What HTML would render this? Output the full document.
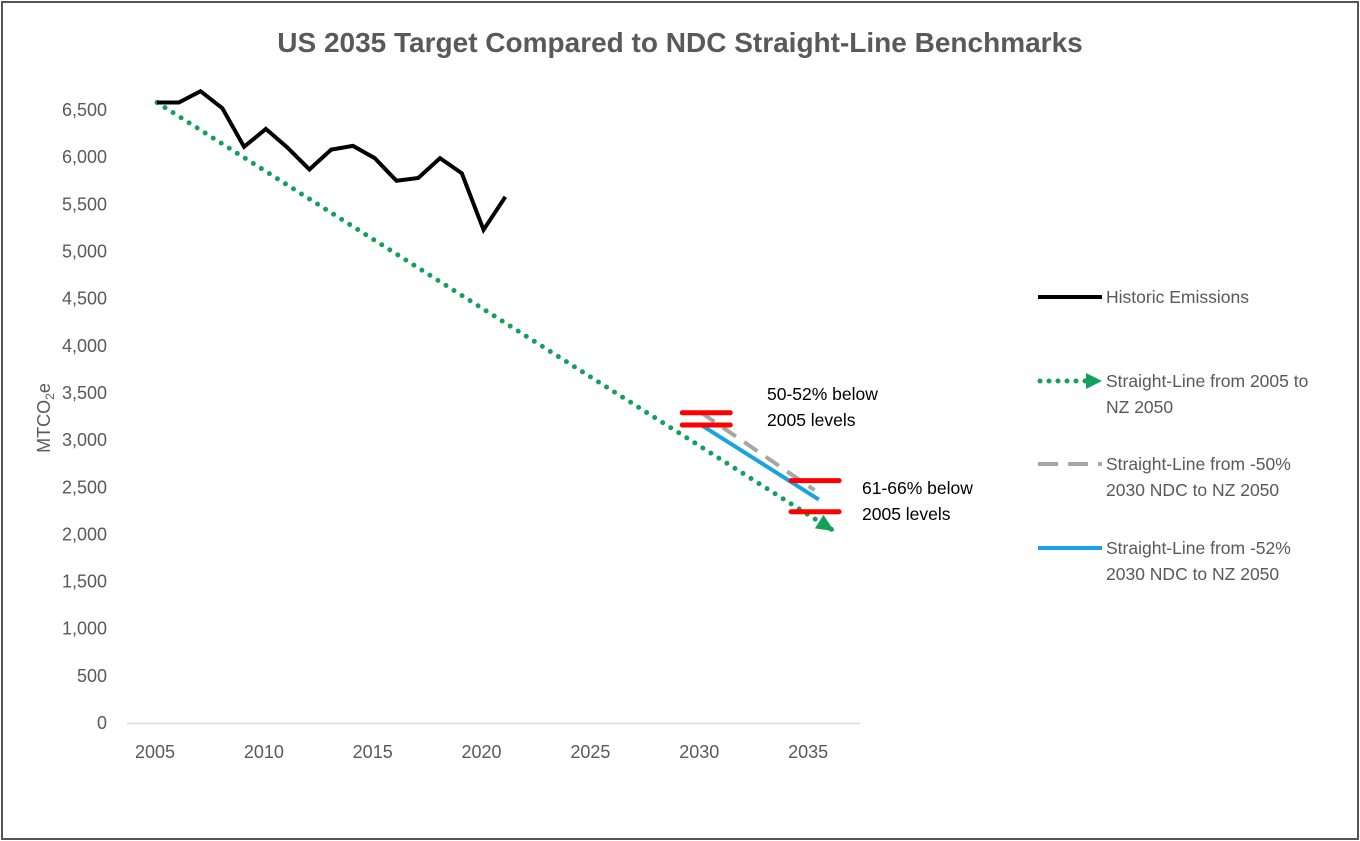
<!DOCTYPE html>
<html><head><meta charset="utf-8"><style>
body{margin:0;background:#fff;}
svg{display:block;font-family:"Liberation Sans",sans-serif;}
</style></head><body>
<svg id="c" width="1360" height="841">
<rect x="2" y="2" width="1356" height="837" fill="#fff" stroke="#555" stroke-width="2"/>
<text x="680" y="52" text-anchor="middle" font-size="28" font-weight="bold" fill="#595959">US 2035 Target Compared to NDC Straight-Line Benchmarks</text>
<text transform="translate(50,418) rotate(-90)" text-anchor="middle" font-size="18" fill="#595959">MTCO<tspan font-size="12" dy="4">2</tspan><tspan dy="-4">e</tspan></text>
<g id="ax"></g><g id="marks"></g>
<g font-size="17.5" fill="#595959">
<line x1="1038" y1="297" x2="1102" y2="297" stroke="#000" stroke-width="4"/>
<text x="1106" y="303">Historic Emissions</text>
<line x1="1040" y1="381" x2="1086" y2="381" stroke="#12a05a" stroke-width="5" stroke-dasharray="0 9" stroke-linecap="round"/>
<polygon points="1086,373 1102,381 1086,389" fill="#12a05a"/>
<text x="1106" y="387">Straight-Line from 2005 to</text>
<text x="1106" y="413">NZ 2050</text>
<line x1="1038" y1="464" x2="1102" y2="464" stroke="#a6a6a6" stroke-width="4" stroke-dasharray="20 10"/>
<text x="1106" y="470">Straight-Line from -50%</text>
<text x="1106" y="496">2030 NDC to NZ 2050</text>
<line x1="1038" y1="548" x2="1102" y2="548" stroke="#1aa3e0" stroke-width="4"/>
<text x="1106" y="554">Straight-Line from -52%</text>
<text x="1106" y="580">2030 NDC to NZ 2050</text>
</g>
<text x="767" y="400" font-size="17.5" fill="#000">50-52% below</text>
<text x="767" y="426" font-size="17.5" fill="#000">2005 levels</text>
<text x="862" y="494" font-size="17.5" fill="#000">61-66% below</text>
<text x="862" y="520" font-size="17.5" fill="#000">2005 levels</text>
</svg>
<script>
const years=[2005,2006,2007,2008,2009,2010,2011,2012,2013,2014,2015,2016,2017,2018,2019,2020,2021];
const historic=[6580,6580,6700,6520,6110,6300,6100,5870,6080,6120,5990,5750,5780,5990,5830,5230,5580];
const greenYears=[2005,2036];
const greenValues=[6580,2050];
const greyYears=[2030,2035.2];
const greyValues=[3290,2470];
const blueYears=[2030,2035.4];
const blueValues=[3160,2370];
const redYears=[2030,2030,2035,2035];
const redValues=[3290,3160,2570,2240];
const yTicks=[0,500,1000,1500,2000,2500,3000,3500,4000,4500,5000,5500,6000,6500];
const xTicks=[2005,2010,2015,2020,2025,2030,2035];
const X=y=>157+(y-2005)*21.77, Y=v=>723-v/500*47.15;
const NS='http://www.w3.org/2000/svg';
function mk(p,t,a){const e=document.createElementNS(NS,t);for(const k in a)e.setAttribute(k,a[k]);p.appendChild(e);return e;}
const ax=document.getElementById('ax'),m=document.getElementById('marks');
const base=mk(ax,'line',{x1:127,x2:860,y1:723.5,y2:723.5,stroke:'#d9d9d9','stroke-width':1.5});


yTicks.forEach(v=>{const t=mk(ax,'text',{x:107,y:Y(v)+6,'text-anchor':'end','font-size':18,fill:'#595959'});t.textContent=v.toLocaleString('en-US');

});
xTicks.forEach(v=>{const t=mk(ax,'text',{x:X(v)-2,y:758,'text-anchor':'middle','font-size':18,fill:'#595959'});t.textContent=v;

});
const pts=(xs,vs)=>xs.map((y,i)=>X(y)+','+Y(vs[i])).join(' ');
const g=mk(m,'polyline',{points:pts(greenYears,greenValues),fill:'none',stroke:'#12a05a','stroke-width':5,'stroke-dasharray':'0 9.5','stroke-linecap':'round'});


const x2=X(greenYears[1]),y2=Y(greenValues[1]),x1=X(greenYears[0]),y1=Y(greenValues[0]);
const ang=Math.atan2(y2-y1,x2-x1),c=Math.cos(ang),s=Math.sin(ang);
const ah=mk(m,'polygon',{points:`${x2+3*c},${y2+3*s} ${x2-15*c+8*s},${y2-15*s-8*c} ${x2-15*c-8*s},${y2-15*s+8*c}`,fill:'#12a05a'});


const gr=mk(m,'polyline',{points:pts(greyYears,greyValues),fill:'none',stroke:'#a6a6a6','stroke-width':4,'stroke-dasharray':'16 10'});


const bl=mk(m,'polyline',{points:pts(blueYears,blueValues),fill:'none',stroke:'#1aa3e0','stroke-width':4});


redYears.forEach((y,i)=>{const r=mk(m,'line',{x1:X(y)-24+5,x2:X(y)+24+5,y1:Y(redValues[i]),y2:Y(redValues[i]),stroke:'#f00','stroke-width':5,'stroke-linecap':'round'});

});
const h=mk(m,'polyline',{points:pts(years,historic),fill:'none',stroke:'#000','stroke-width':4,'stroke-linejoin':'miter'});


</script>
</body></html>
